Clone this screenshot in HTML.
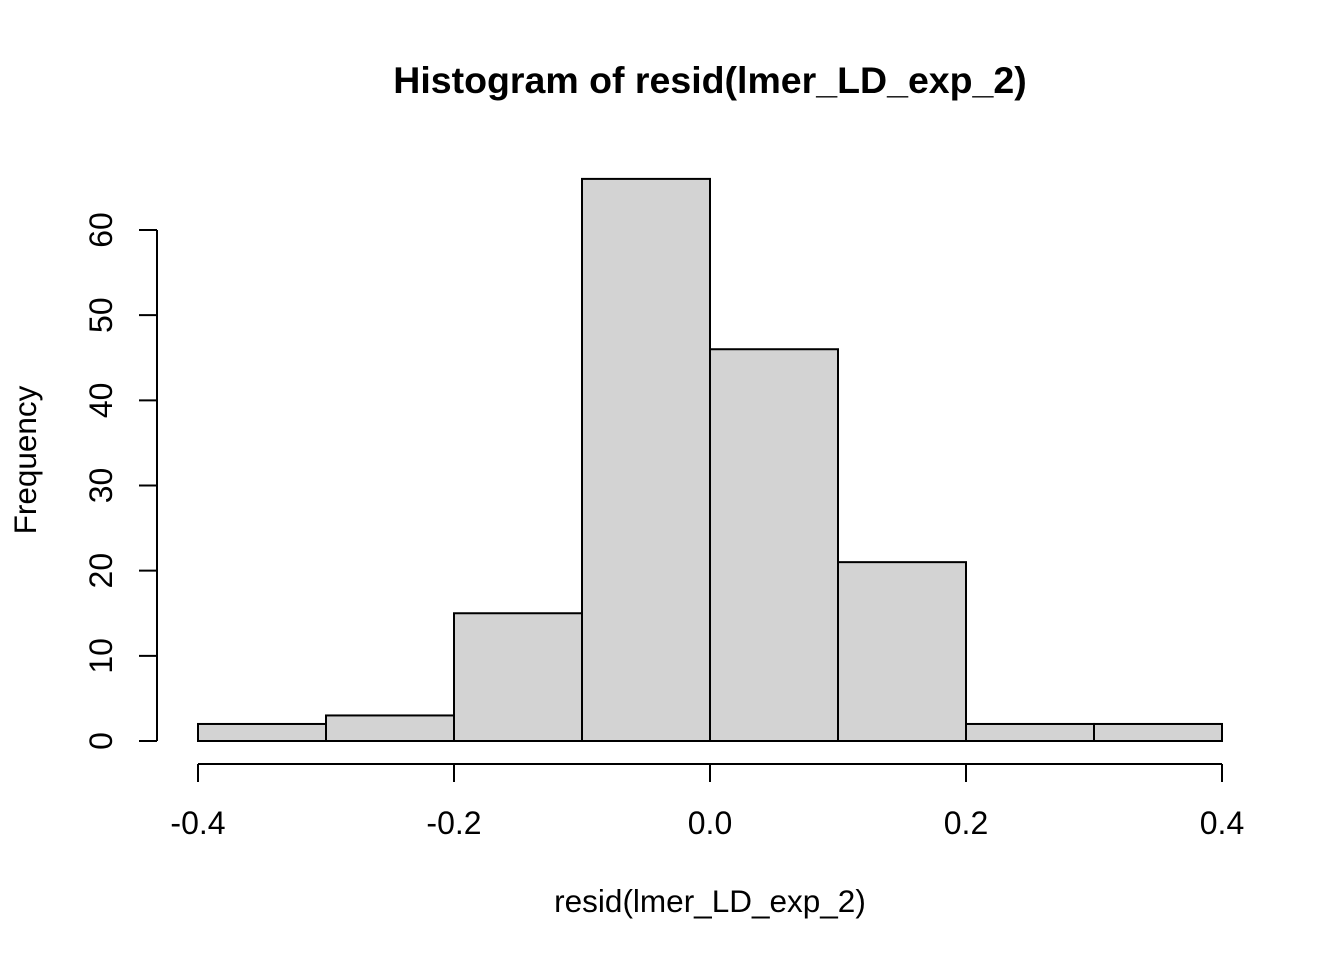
<!DOCTYPE html>
<html><head><meta charset="utf-8"><style>
html,body{margin:0;padding:0;background:#fff;}
svg{display:block;font-family:"Liberation Sans",Arial,sans-serif;}
</style></head><body>
<svg id="chart" width="1344" height="960" viewBox="0 0 1344 960" xmlns="http://www.w3.org/2000/svg">
<rect width="1344" height="960" fill="#fff"/>
<text x="710" y="93" text-anchor="middle" font-size="37.5" font-weight="bold">Histogram of resid(lmer_LD_exp_2)</text>
<text x="710" y="912" text-anchor="middle" font-size="31.5">resid(lmer_LD_exp_2)</text>
<text transform="translate(36,460) rotate(-90)" text-anchor="middle" font-size="31.5">Frequency</text>
<g id="bars"></g><g id="xaxis"></g><g id="yaxis"></g>
</svg>
<script>
const breaks = [-0.4,-0.3,-0.2,-0.1,0,0.1,0.2,0.3,0.4];
const counts = [2,3,15,66,46,21,2,2];
const xTicks = [-0.4,-0.2,0,0.2,0.4];
const xTickLabels = ["-0.4","-0.2","0.0","0.2","0.4"];
const yTicks = [0,10,20,30,40,50,60];
const NS="http://www.w3.org/2000/svg";
const xs=v=>198+(v+0.4)*1280;
const ys=v=>741-v*(511/60);
function mk(tag,attrs,parent){const e=document.createElementNS(NS,tag);for(const k in attrs)e.setAttribute(k,attrs[k]);parent.appendChild(e);return e;}
const bars=document.getElementById('bars');
counts.forEach((c,i)=>{
 const x0=xs(breaks[i]),x1=xs(breaks[i+1]);
 const r=mk('rect',{x:x0,y:ys(c),width:x1-x0,height:ys(0)-ys(c),fill:'#d3d3d3',stroke:'#000','stroke-width':2},bars);
 
 
});
const xa=document.getElementById('xaxis');
const xl=mk('line',{x1:xs(xTicks[0]),x2:xs(xTicks[xTicks.length-1]),y1:764,y2:764,stroke:'#000','stroke-width':2},xa);


xTicks.forEach((t,i)=>{
 mk('line',{x1:xs(t),x2:xs(t),y1:764,y2:782,stroke:'#000','stroke-width':2},xa);
 const tx=mk('text',{x:xs(t),y:834,'text-anchor':'middle','font-size':32},xa);
 tx.textContent=xTickLabels[i];
 
 
});
const ya=document.getElementById('yaxis');
const yl=mk('line',{x1:157,x2:157,y1:ys(yTicks[0]),y2:ys(yTicks[yTicks.length-1]),stroke:'#000','stroke-width':2},ya);


yTicks.forEach(t=>{
 mk('line',{x1:139,x2:157,y1:ys(t),y2:ys(t),stroke:'#000','stroke-width':2},ya);
 const tx=mk('text',{transform:`translate(112,${ys(t)}) rotate(-90)`,'text-anchor':'middle','font-size':32},ya);
 tx.textContent=String(t);
 
 
});
</script>
</body></html>
